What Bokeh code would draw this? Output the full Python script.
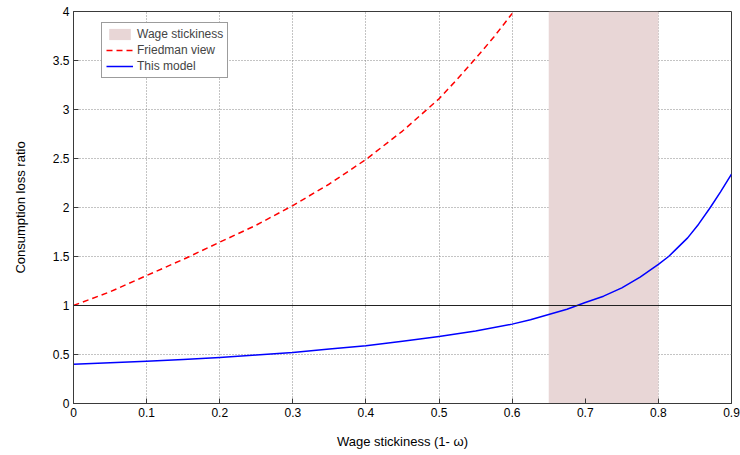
from bokeh.plotting import figure
from bokeh.models import Span, Legend, LegendItem, FixedTicker, Range1d
from bokeh.embed import file_html
from bokeh.resources import INLINE

# Data
x_friedman = [0.0, 0.05, 0.1, 0.15, 0.2, 0.25, 0.3, 0.35, 0.4, 0.45, 0.5, 0.525, 0.55, 0.575, 0.6]
y_friedman = [1.0, 1.14, 1.306, 1.47, 1.646, 1.82, 2.02, 2.24, 2.49, 2.78, 3.11, 3.31, 3.52, 3.74, 3.98]

x_model = [0.0, 0.05, 0.1, 0.15, 0.2, 0.25, 0.3, 0.35, 0.4, 0.45, 0.5, 0.55, 0.6,
           0.625, 0.65, 0.675, 0.7, 0.725, 0.75, 0.775, 0.8, 0.814, 0.825, 0.84, 0.855,
           0.871, 0.885, 0.9]
y_model = [0.40, 0.415, 0.43, 0.45, 0.47, 0.495, 0.52, 0.555, 0.59, 0.635, 0.684, 0.74, 0.81,
           0.855, 0.908, 0.962, 1.03, 1.095, 1.18, 1.29, 1.42, 1.50, 1.58, 1.69, 1.83,
           2.0, 2.16, 2.34]

band_left = [0.65]
band_right = [0.80]

x_ticks = [0, 0.1, 0.2, 0.3, 0.4, 0.5, 0.6, 0.7, 0.8, 0.9]
x_tick_labels = ["0", "0.1", "0.2", "0.3", "0.4", "0.5", "0.6", "0.7", "0.8", "0.9"]
y_ticks = [0, 0.5, 1, 1.5, 2, 2.5, 3, 3.5, 4]
y_tick_labels = ["0", "0.5", "1", "1.5", "2", "2.5", "3", "3.5", "4"]

FONT = "Liberation Sans"
AX = "#3a3a3a"

p = figure(width=740, height=455, output_backend="svg", toolbar_location=None,
           x_range=Range1d(0, 0.9), y_range=Range1d(0, 4),
           min_border_left=73, min_border_right=9, min_border_top=11, min_border_bottom=52)
p.background_fill_color = "white"
p.border_fill_color = "white"
p.outline_line_color = AX
p.outline_line_width = 1

for ax, ticks, labels in ((p.xaxis[0], x_ticks, x_tick_labels), (p.yaxis[0], y_ticks, y_tick_labels)):
    ax.ticker = FixedTicker(ticks=ticks)
    ax.major_label_overrides = {t: l for t, l in zip(ticks, labels)}
    ax.major_tick_in = 5
    ax.major_tick_out = 0
    ax.minor_tick_in = 0
    ax.minor_tick_out = 0
    ax.axis_line_color = AX
    ax.major_tick_line_color = AX
    ax.major_label_text_font = FONT
    ax.major_label_text_font_size = "12px"
    ax.major_label_text_color = "black"
    ax.axis_label_text_font = FONT
    ax.axis_label_text_font_size = "13px"
    ax.axis_label_text_font_style = "normal"
    ax.axis_label_text_color = "black"

p.xaxis.axis_label = "Wage stickiness (1- ω)"
p.yaxis.axis_label = "Consumption loss ratio"
p.xaxis.major_label_standoff = 4
p.yaxis.major_label_standoff = 4
p.xaxis.axis_label_standoff = 14
p.yaxis.axis_label_standoff = 22

for g in (p.xgrid[0], p.ygrid[0]):
    g.grid_line_color = "#888888"
    g.grid_line_dash = "1 2"
    g.grid_line_width = 1

band = p.quad(left=band_left, right=band_right, bottom=[0], top=[4],
              fill_color="#e8d6d6", line_color=None)

p.add_layout(Span(location=1, dimension="width", line_color="#222222", line_width=1))

fr = p.line(x_friedman, y_friedman, line_color="#ff0000", line_width=1.5, line_dash="6 4",
            line_join="round")
md = p.line(x_model, y_model, line_color="#0000ff", line_width=1.5, line_join="round")

legend = Legend(items=[LegendItem(label="Wage stickiness", renderers=[band]),
                       LegendItem(label="Friedman view", renderers=[fr]),
                       LegendItem(label="This model", renderers=[md])],
                location=(28, 325))
legend.label_text_font = FONT
legend.label_text_font_size = "12px"
legend.label_height = 14
legend.glyph_height = 14
legend.glyph_width = 27
legend.label_standoff = 4
legend.spacing = 2
legend.padding = 4
legend.margin = 0
legend.border_line_color = AX
legend.border_line_width = 1
legend.background_fill_alpha = 1
p.add_layout(legend)

open("out.html", "w").write(file_html(p, INLINE))
